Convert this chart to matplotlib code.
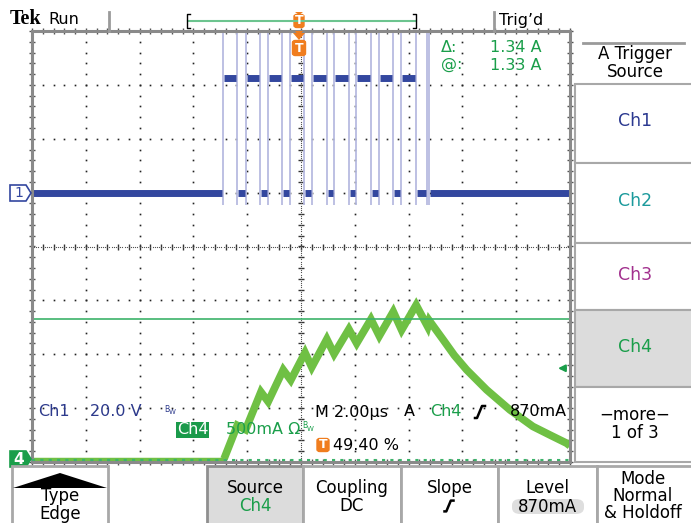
import numpy as np
import matplotlib.pyplot as plt
from matplotlib.patches import Rectangle, Polygon, FancyBboxPatch
from matplotlib.lines import Line2D

# ---- data ----
# Ch1: switch node voltage, 20 V/div, ground at +1 div
ch1_rise_us = [-2.89, -2.06, -1.24, -0.41, 0.40, 1.24, 2.04, 2.90, 3.72, 4.67]
ch1_fall_us = [-2.37, -1.52, -0.71, 0.12, 0.96, 1.77, 2.59, 3.43, 4.28, 4.77]
ch1_high_v = 42.4
ch1_low_v = 0.0
ch1_spike_v = [-4.5, 62.0]
ch1_vdiv = 20.0
ch1_offset = 1.0

# Ch4: inductor current, 500 mA/div, ground at -4 div
ch4_t_us = [-10.0, -2.86, -2.37, -2.06, -1.49, -1.22, -0.66, -0.38, 0.15, 0.40,
            0.96, 1.23, 1.78, 2.07, 2.60, 2.91, 3.43, 3.74, 4.28, 4.71, 4.77,
            5.29, 5.70, 6.16, 6.90, 7.77, 8.62, 9.30, 9.87, 10.0]
ch4_amp = [0.03, 0.03, 0.34, 0.30, 0.65, 0.56, 0.855, 0.76, 1.015, 0.88,
           1.14, 1.003, 1.232, 1.102, 1.325, 1.17, 1.395, 1.225, 1.457, 1.256, 1.312,
           1.133, 0.99, 0.855, 0.67, 0.483, 0.33, 0.245, 0.175, 0.15]
ch4_adiv = 0.5
ch4_offset = -4.0

cursor_a = [1.33, -0.01]
trig_level_a = 0.87

menu_right = ['Ch1', 'Ch2', 'Ch3', 'Ch4']
menu_right_colors = ['#2b3990', '#1b9a9c', '#a2308e', '#1a9e4a']

W, H = 691, 523
BLUE = '#33479f'
EDGE = '#b7bbe0'
GREEN = '#6fc044'
TGREEN = '#1a9e4a'
ORANGE = '#f07d1e'
RFS = 11.5   # readout font size
MFS = 12     # menu font size


def fx(x):
    return x / W


def fy(y):
    return 1 - y / H


fig = plt.figure(figsize=(W / 100, H / 100), dpi=100)
fig.patch.set_facecolor('white')

# ---- graticule ----
ax = fig.add_axes([32 / W, 1 - 462 / H, 538 / W, 431 / H])
ax.set_xlim(-10, 10)
ax.set_ylim(-4, 4)
ax.axis('off')

ydots = np.arange(-4, 4.01, 0.2)
xdots = np.arange(-10, 10.01, 0.4)
for xv in [-8, -6, -4, -2, 2, 4, 6, 8]:
    ax.plot(np.full_like(ydots, xv), ydots, ls='none', marker='s', ms=1.2, mew=0, color='#222222')
for yv in [-3, -2, -1, 1, 2, 3]:
    ax.plot(xdots, np.full_like(xdots, yv), ls='none', marker='s', ms=1.2, mew=0, color='#222222')

# centre lines with minor ticks
ax.plot(np.zeros_like(ydots), ydots, ls='none', marker='_', ms=5, mew=1, color='#333333')
ax.plot(xdots, np.zeros_like(xdots), ls='none', marker='|', ms=5, mew=1, color='#333333')
fine_y = np.arange(-4, 4.01, 0.04)
fine_x = np.arange(-10, 10.01, 0.08)
ax.plot(np.zeros_like(fine_y), fine_y, ls='none', marker='s', ms=0.8, mew=0, color='#555555')
ax.plot(fine_x, np.zeros_like(fine_x), ls='none', marker='s', ms=0.8, mew=0, color='#555555')

# edge ticks
for xe in [-10, 10]:
    ax.plot(np.full_like(ydots, xe), ydots, ls='none', marker='_', ms=5, mew=1, color='#555555', clip_on=False)
for ye in [-4, 4]:
    ax.plot(xdots, np.full_like(xdots, ye), ls='none', marker='|', ms=5, mew=1, color='#555555', clip_on=False)

ax.add_patch(Rectangle((0, 0), 1, 1, transform=ax.transAxes, fill=False,
                       ec='#8a8a8a', lw=2.2, clip_on=False, zorder=5))

# ---- Ch1 trace ----
def v2div(v):
    return v / ch1_vdiv + ch1_offset


edges = sorted(ch1_rise_us + ch1_fall_us)
ax.vlines(edges, v2div(ch1_spike_v[0]), v2div(ch1_spike_v[1]), color=EDGE, lw=1.3, zorder=2)

pad = 0.04
segs = [(-10, ch1_rise_us[0], ch1_low_v)]
for i, (r, f) in enumerate(zip(ch1_rise_us, ch1_fall_us)):
    segs.append((r, f, ch1_high_v))
    nxt = ch1_rise_us[i + 1] if i + 1 < len(ch1_rise_us) else 10
    segs.append((f, nxt, ch1_low_v))
for a, b, v in segs:
    a2 = a + pad if a > -10 else a
    b2 = b - pad if b < 10 else b
    if b2 <= a2:
        a2, b2 = a, b
    ax.plot([a2, b2], [v2div(v), v2div(v)], color=BLUE, lw=5,
            solid_capstyle='butt', zorder=3)

# ---- Ch4 trace ----
ch4_div = np.array(ch4_amp) / ch4_adiv + ch4_offset
ax.plot(ch4_t_us[:2], ch4_div[:2], color=GREEN, lw=2.5, zorder=4, solid_capstyle='butt')
ax.plot(ch4_t_us[1:], ch4_div[1:], color=GREEN, lw=5.5, zorder=4,
        solid_joinstyle='miter', solid_capstyle='butt')

# cursors
ax.axhline(cursor_a[0] / ch4_adiv + ch4_offset, color='#3cb36a', lw=1.2, zorder=4)
ax.axhline(cursor_a[1] / ch4_adiv + ch4_offset + 0.05, color='#3cb36a', lw=1.5,
           ls=(0, (1.5, 2.5)), zorder=6, clip_on=False)

# trigger level arrow
ty = trig_level_a / ch4_adiv + ch4_offset
ax.annotate('', xy=(9.45, ty), xytext=(9.95, ty),
            arrowprops=dict(arrowstyle='-|>', color=TGREEN, lw=1.5, mutation_scale=10))

# ---- channel ground markers ----
def tag(x0, yc, fill, edge):
    pts = [(x0, yc - 8), (x0 + 16, yc - 8), (x0 + 21, yc), (x0 + 16, yc + 8), (x0, yc + 8)]
    pts = [(fx(px), fy(py)) for px, py in pts]
    fig.patches.append(Polygon(pts, closed=True, transform=fig.transFigure,
                               fc=fill, ec=edge, lw=1.2))


tag(10, 193, 'white', BLUE)
fig.text(fx(19), fy(193), '1', color=BLUE, fontsize=10, ha='center', va='center')
tag(10, 459, TGREEN, TGREEN)
fig.text(fx(19), fy(459), '4', color='white', fontsize=11, ha='center', va='center', weight='bold')

# ---- top status bar ----
fig.text(fx(10), fy(19), 'Tek', family='Liberation Serif', weight='bold', fontsize=14.5,
         va='center', ha='left')
fig.text(fx(48), fy(19), 'Run', fontsize=RFS, va='center', ha='left')
fig.add_artist(Line2D([fx(109), fx(109)], [fy(12), fy(31)], color='#9a9a9a', lw=2))
fig.add_artist(Line2D([fx(494), fx(494)], [fy(12), fy(31)], color='#9a9a9a', lw=2))
fig.add_artist(Line2D([fx(188), fx(416)], [fy(21), fy(21)], color='#6cc48f', lw=1.5))
fig.add_artist(Line2D([fx(190), fx(187), fx(187), fx(190)], [fy(14), fy(14), fy(28), fy(28)],
                      color='black', lw=1))
fig.add_artist(Line2D([fx(413), fx(416), fx(416), fx(413)], [fy(14), fy(14), fy(28), fy(28)],
                      color='black', lw=1))
fig.text(fx(499), fy(20), "Trig\u2019d", fontsize=RFS, va='center', ha='left')


def tmark(xc, yc, w=12, h=14):
    fig.patches.append(FancyBboxPatch((fx(xc - w / 2), fy(yc + h / 2)), w / W, h / H,
                                      boxstyle='round,pad=0,rounding_size=0.004',
                                      transform=fig.transFigure, fc=ORANGE, ec=ORANGE))
    fig.text(fx(xc), fy(yc), 'T', color='white', fontsize=9, weight='bold',
             ha='center', va='center')


tmark(299, 21, 10, 13)
fig.patches.append(Polygon([(fx(295), fy(12)), (fx(303), fy(12)), (fx(299), fy(15))],
                           transform=fig.transFigure, fc=ORANGE, ec='none'))
fig.patches.append(Polygon([(fx(295), fy(31)), (fx(303), fy(31)), (fx(299), fy(36))],
                           transform=fig.transFigure, fc=ORANGE, ec='none'))
tmark(299, 48, 13, 15)
fig.patches.append(Polygon([(fx(293), fy(33)), (fx(305), fy(33)), (fx(299), fy(40))],
                           transform=fig.transFigure, fc=ORANGE, ec='none'))

# cursor readouts
fig.text(fx(441), fy(47), '\u0394:', color=TGREEN, fontsize=RFS, va='center')
fig.text(fx(441), fy(65), '@:', color=TGREEN, fontsize=RFS, va='center')
fig.text(fx(542), fy(47), f'{cursor_a[0] - cursor_a[1]:.2f} A', color=TGREEN, fontsize=RFS,
         va='center', ha='right')
fig.text(fx(542), fy(65), f'{cursor_a[0]:.2f} A', color=TGREEN, fontsize=RFS,
         va='center', ha='right')

# ---- bottom readouts inside graticule ----
fig.text(fx(38), fy(412), 'Ch1', color='#2d3a8c', fontsize=RFS, va='center')
fig.text(fx(90), fy(412), f'{ch1_vdiv:.1f} V', color='#2d3a8c', fontsize=RFS, va='center')
fig.text(fx(164), fy(409), 'B', color='#2d3a8c', fontsize=5.5, va='center')
fig.text(fx(169), fy(412), 'W', color='#2d3a8c', fontsize=5, va='center')

fig.patches.append(Rectangle((fx(176), fy(438)), 33 / W, 16 / H, transform=fig.transFigure,
                             fc='#1a9a4a', ec='none'))
fig.text(fx(192.5), fy(430), 'Ch4', color='white', fontsize=RFS, ha='center', va='center')
fig.text(fx(226), fy(430), f'{ch4_adiv * 1000:.0f}mA \u03a9', color=TGREEN, fontsize=RFS, va='center')
fig.text(fx(302), fy(426), 'B', color=TGREEN, fontsize=5.5, va='center')
fig.text(fx(307), fy(429), 'W', color=TGREEN, fontsize=5, va='center')

fig.text(fx(315), fy(412), 'M 2.00\u00b5s', color='black', fontsize=RFS, va='center')
fig.text(fx(404), fy(412), 'A', color='black', fontsize=RFS, va='center')
fig.text(fx(430), fy(412), 'Ch4', color=TGREEN, fontsize=RFS, va='center')


def slope_glyph(xc, yc, s=1.0, color='black'):
    xs = [xc - 5 * s, xc - 3 * s, xc + 2 * s, xc + 5 * s]
    ys = [yc + 6 * s, yc + 6 * s, yc - 6 * s, yc - 6 * s]
    fig.add_artist(Line2D([fx(v) for v in xs], [fy(v) for v in ys], color=color, lw=1.8))


slope_glyph(480, 412)
fig.text(fx(567), fy(412), f'{trig_level_a * 1000:.0f}mA', color='black', fontsize=RFS,
         va='center', ha='right')

tmark(323, 445, 12, 13)
fig.text(fx(333), fy(445), '49.40 %', color='black', fontsize=RFS, va='center')

# ---- right side menu ----
fig.add_artist(Line2D([fx(583), fx(684)], [fy(43), fy(43)], color='#9a9a9a', lw=2))
fig.text(fx(635), fy(54), 'A Trigger', fontsize=MFS, ha='center', va='center')
fig.text(fx(635), fy(72), 'Source', fontsize=MFS, ha='center', va='center')

boxes = [(84, 163), (163, 243), (243, 310), (310, 387), (387, 462)]
for (y0, y1), lab, col in zip(boxes[:4], menu_right, menu_right_colors):
    sel = lab == 'Ch4'
    fig.patches.append(Rectangle((fx(575), fy(y1)), 120 / W, (y1 - y0) / H,
                                 transform=fig.transFigure,
                                 fc='#dcdcdc' if sel else 'white',
                                 ec='#a8a8a8', lw=1.5))
    fig.text(fx(635), fy((y0 + y1) / 2 - 2), lab, color=col, fontsize=12.5,
             ha='center', va='center')
y0, y1 = boxes[4]
fig.patches.append(Rectangle((fx(575), fy(y1)), 120 / W, (y1 - y0) / H,
                             transform=fig.transFigure, fc='white', ec='#a8a8a8', lw=1.5))
fig.text(fx(635), fy(415), '\u2212more\u2212', fontsize=MFS, ha='center', va='center')
fig.text(fx(635), fy(433), '1 of 3', fontsize=MFS, ha='center', va='center')

# ---- bottom menu ----
bottom = [(12, 108), (207, 303), (303, 401), (401, 498), (498, 597), (597, 695)]
for i, (x0, x1) in enumerate(bottom):
    fig.patches.append(Rectangle((fx(x0), fy(530)), (x1 - x0) / W, 64 / H,
                                 transform=fig.transFigure,
                                 fc='#dcdcdc' if i == 1 else 'white',
                                 ec='#8f8f8f' if i == 1 else '#a8a8a8', lw=2))
fig.patches.append(Polygon([(fx(13), fy(488)), (fx(60), fy(473)), (fx(107), fy(488))],
                           transform=fig.transFigure, fc='black', ec='none'))
fig.text(fx(60), fy(496), 'Type', fontsize=MFS, ha='center', va='center')
fig.text(fx(60), fy(514), 'Edge', fontsize=MFS, ha='center', va='center')
fig.text(fx(255), fy(488), 'Source', fontsize=MFS, ha='center', va='center')
fig.text(fx(255), fy(506), 'Ch4', fontsize=MFS, ha='center', va='center', color=TGREEN)
fig.text(fx(352), fy(488), 'Coupling', fontsize=MFS, ha='center', va='center')
fig.text(fx(352), fy(506), 'DC', fontsize=MFS, ha='center', va='center')
fig.text(fx(450), fy(488), 'Slope', fontsize=MFS, ha='center', va='center')
slope_glyph(449, 506, 0.9)
fig.patches.append(FancyBboxPatch((fx(512), fy(514)), 72 / W, 15 / H,
                                  boxstyle='round,pad=0,rounding_size=0.012',
                                  transform=fig.transFigure, fc='#dedede', ec='none'))
fig.text(fx(547), fy(488), 'Level', fontsize=MFS, ha='center', va='center')
fig.text(fx(547), fy(507), f'{trig_level_a * 1000:.0f}mA', fontsize=MFS, ha='center', va='center')
fig.text(fx(643), fy(479), 'Mode', fontsize=MFS, ha='center', va='center')
fig.text(fx(643), fy(496), 'Normal', fontsize=MFS, ha='center', va='center')
fig.text(fx(643), fy(513), '& Holdoff', fontsize=MFS, ha='center', va='center')

fig.savefig('out.png', dpi=100)
